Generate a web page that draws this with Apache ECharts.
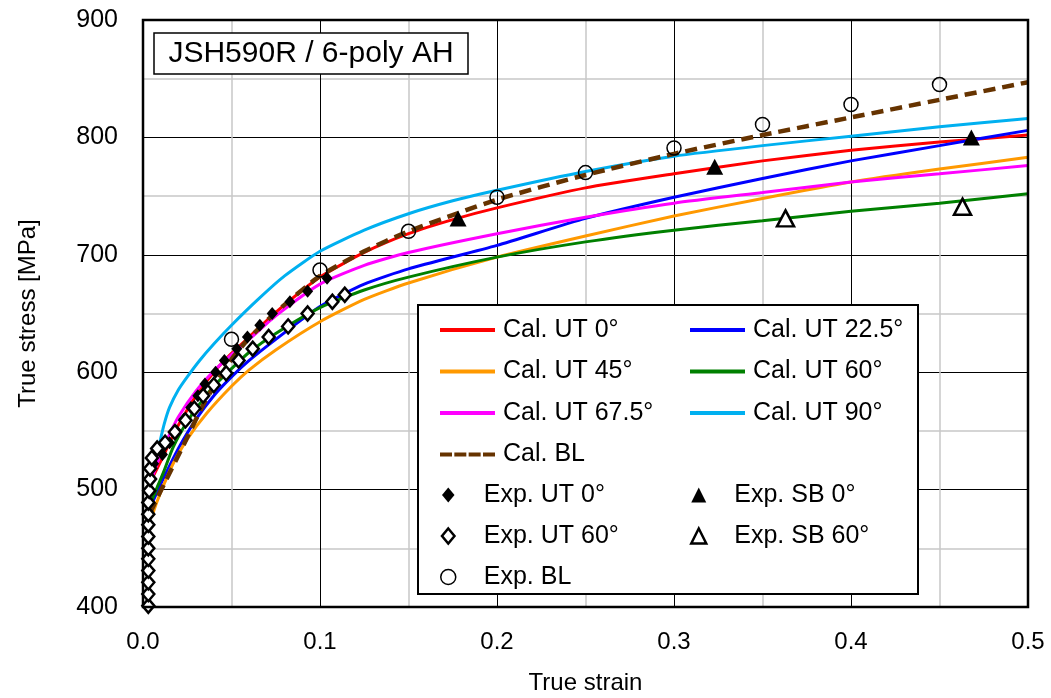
<!DOCTYPE html>
<html><head><meta charset="utf-8">
<script src="https://cdn.jsdelivr.net/npm/echarts@6/dist/echarts.min.js"></script>
<style>html,body{margin:0;padding:0;background:#fff}#c{width:1051px;height:698px}</style>
</head><body><div id="c"></div>
<script>
// ---- data: [true strain, true stress MPa] ----
const calUT0 = [[0.003,500],[0.006,512],[0.01,524],[0.015,540],[0.02,555],[0.03,580],[0.04,600],[0.05,616],[0.06,630],[0.075,651],[0.1,681],[0.125,702],[0.15,718],[0.175,730],[0.2,740],[0.25,757],[0.3,769],[0.35,780],[0.4,789],[0.45,796],[0.5,802]];
const calUT225 = [[0.005,488],[0.008,498],[0.012,511],[0.02,535],[0.03,560],[0.04,580],[0.05,596],[0.06,610],[0.075,628],[0.1,656],[0.125,675],[0.15,688],[0.2,708],[0.25,731],[0.3,749],[0.35,765],[0.4,780],[0.45,793],[0.5,806]];
const calUT45 = [[0.005,477],[0.008,490],[0.012,505],[0.017,522],[0.025,543],[0.036,565],[0.05,588],[0.06,602],[0.075,619],[0.1,643],[0.125,662],[0.15,676],[0.2,698],[0.25,716],[0.3,733],[0.35,748],[0.4,762],[0.45,773],[0.5,783]];
const calUT60 = [[0.004,487],[0.008,502],[0.0114,514],[0.017,536],[0.025,558],[0.033,575],[0.04,588],[0.05,603],[0.06,617],[0.075,633],[0.1,655],[0.125,670],[0.15,681],[0.2,698],[0.25,711],[0.3,721],[0.35,729],[0.4,737],[0.45,744],[0.5,752]];
const calUT675 = [[0.003,500],[0.006,514],[0.01,530],[0.015,547],[0.02,562],[0.03,584],[0.04,601],[0.05,615],[0.06,628],[0.075,648],[0.1,675],[0.125,691],[0.15,702],[0.2,718],[0.25,732],[0.3,744],[0.35,753],[0.4,762],[0.45,769],[0.5,776]];
const calUT90 = [[0.0096,541],[0.012,556],[0.015,570],[0.02,585],[0.025,596],[0.032,610],[0.04,624],[0.05,640],[0.065,662],[0.08,682],[0.1,703],[0.125,721],[0.15,735],[0.175,746],[0.2,755],[0.25,771],[0.3,784],[0.35,793],[0.4,801],[0.45,809],[0.5,816]];
const calBL = [[0.004,480],[0.0068,489],[0.012,505],[0.0226,537],[0.035,575],[0.05,611],[0.06,629],[0.075,651],[0.1,682],[0.125,703],[0.15,720],[0.2,747],[0.25,768],[0.3,786],[0.35,802],[0.4,817],[0.45,832],[0.5,847]];
const expUT0 = [[0.006,522],[0.011,530],[0.015,540],[0.019,550],[0.023,560],[0.027,570],[0.031,580],[0.035,590],[0.041,600],[0.046,610],[0.053,620],[0.059,630],[0.066,640],[0.073,650],[0.083,660],[0.093,669],[0.104,680]];
const expUT60 = [[0.003,401],[0.003,411],[0.003,421],[0.003,431],[0.003,441],[0.003,450],[0.003,460],[0.003,470],[0.003,479],[0.003,489],[0.0035,499],[0.004,509],[0.004,518],[0.005,527],[0.008,535],[0.0125,540],[0.018,549],[0.024,559],[0.029,569],[0.034,580],[0.040,589],[0.047,599],[0.054,610],[0.062,620],[0.071,630],[0.082,639],[0.093,650],[0.107,660],[0.114,666]];
const expBL = [[0.05,628],[0.1,687],[0.15,720],[0.2,749],[0.25,770],[0.3,791],[0.35,811],[0.4,828],[0.45,845]];
const expSB0 = [[0.178,731],[0.323,775],[0.468,800]];
const expSB60 = [[0.363,731],[0.463,741]];
const xTicks = [0, 0.1, 0.2, 0.3, 0.4, 0.5];
const yTicks = [400, 500, 600, 700, 800, 900];

const FONT = 'Liberation Sans, Arial, sans-serif';
const chart = echarts.init(document.getElementById('c'));

function lineSeries(name, data, color, dashed) {
  return {
    name, type: 'line', data, symbol: 'none', smooth: 0.2,
    lineStyle: { color, width: dashed ? 4.5 : 3, type: dashed ? [12, 7] : 'solid' },
    itemStyle: { color }, z: 2, silent: true
  };
}
function scatterSeries(name, data, symbol, size, fill, border, bw) {
  return {
    name, type: 'scatter', data, symbol, symbolSize: size, z: 5, silent: true,
    itemStyle: { color: fill, borderColor: border, borderWidth: bw, opacity: 1 }
  };
}
const DIAMOND = 'path://M5,0L10,6L5,12L0,6Z';
const TRI = 'path://M6,0L12,12L0,12Z';
const DASH = 'path://M0,0h12v4h-12zM14.33,0h12v4h-12zM28.66,0h12v4h-12zM43,0h12v4h-12z';

const legendText = { fontSize: 25, color: '#000', fontFamily: FONT, lineHeight: 28, padding: [0, 0, 0, 3] };
function lineLegend(left, top, items) {
  return { left, top, orient: 'vertical', itemWidth: 55, itemHeight: 4, itemGap: 13.5,
    textStyle: legendText, selectedMode: false, data: items, z: 6 };
}
function symLegend(left, top, items) {
  return { left, top, orient: 'vertical', itemWidth: 55, itemHeight: 15, itemGap: 13,
    textStyle: legendText, selectedMode: false, data: items, z: 6 };
}

chart.setOption({
  animation: false,
  backgroundColor: '#fff',
  grid: { left: 143, right: 23, top: 20, bottom: 91, containLabel: false, outerBoundsMode: 'none' },
  xAxis: {
    type: 'value', min: xTicks[0], max: xTicks[xTicks.length - 1], interval: 0.1,
    name: 'True strain', nameLocation: 'middle', nameGap: 64,
    nameTextStyle: { fontSize: 24, color: '#000', fontFamily: FONT },
    axisLine: { show: true, lineStyle: { color: '#000', width: 2 } },
    axisTick: { show: false },
    axisLabel: { fontSize: 24, color: '#000', fontFamily: FONT, margin: 23, formatter: v => v.toFixed(1) },
    splitLine: { show: true, lineStyle: { color: '#000', width: 1 } },
    minorTick: { show: false, splitNumber: 2 },
    minorSplitLine: { show: true, lineStyle: { color: '#c8c8c8', width: 1.5 } }
  },
  yAxis: {
    type: 'value', min: yTicks[0], max: yTicks[yTicks.length - 1], interval: 100,
    name: 'True stress [MPa]', nameLocation: 'middle', nameGap: 103,
    nameTextStyle: { fontSize: 24, color: '#000', fontFamily: FONT },
    axisLine: { show: true, lineStyle: { color: '#000', width: 2 } },
    axisTick: { show: false },
    axisLabel: { fontSize: 25, color: '#000', fontFamily: FONT, margin: 25 },
    splitLine: { show: true, lineStyle: { color: '#000', width: 1 } },
    minorTick: { show: false, splitNumber: 2 },
    minorSplitLine: { show: true, lineStyle: { color: '#c8c8c8', width: 1.5 } }
  },
  legend: [
    lineLegend(435, 311, [
      { name: 'Cal. UT 0°', icon: 'rect' },
      { name: 'Cal. UT 45°', icon: 'rect' },
      { name: 'Cal. UT 67.5°', icon: 'rect' },
      { name: 'Cal. BL', icon: DASH }
    ]),
    symLegend(435, 476, [
      { name: 'Exp. UT 0°', icon: DIAMOND, itemStyle: { color: '#000', borderWidth: 0 } },
      { name: 'Exp. UT 60°', icon: DIAMOND, itemStyle: { color: '#fff', borderColor: '#000', borderWidth: 2.5 } },
      { name: 'Exp. BL', icon: 'circle', itemStyle: { color: '#fff', borderColor: '#000', borderWidth: 1.5 } }
    ]),
    lineLegend(685, 311, [
      { name: 'Cal. UT 22.5°', icon: 'rect' },
      { name: 'Cal. UT 60°', icon: 'rect' },
      { name: 'Cal. UT 90°', icon: 'rect' }
    ]),
    symLegend(685, 476, [
      { name: 'Exp. SB 0°', icon: TRI, itemStyle: { color: '#000', borderWidth: 0 } },
      { name: 'Exp. SB 60°', icon: TRI, itemStyle: { color: '#fff', borderColor: '#000', borderWidth: 2.5 } }
    ])
  ],
  graphic: [
    { type: 'rect', z: 3, shape: { x: 154, y: 33, width: 314, height: 41 },
      style: { fill: '#fff', stroke: '#000', lineWidth: 1.5 } },
    { type: 'text', z: 4, x: 311, y: 54,
      style: { text: 'JSH590R / 6-poly AH', fontSize: 30, fontFamily: FONT, fill: '#000', align: 'center', verticalAlign: 'middle' } },
    { type: 'rect', z: 3, shape: { x: 418, y: 305, width: 500, height: 289 },
      style: { fill: '#fff', stroke: '#000', lineWidth: 2 } },
    { type: 'rect', z: 10, shape: { x: 143, y: 20, width: 885, height: 587 },
      style: { fill: 'none', stroke: '#000', lineWidth: 2.5 } }
  ],
  series: [
    lineSeries('Cal. UT 0°', calUT0, '#ff0000'),
    lineSeries('Cal. UT 22.5°', calUT225, '#0000ff'),
    lineSeries('Cal. UT 45°', calUT45, '#ff9900'),
    lineSeries('Cal. UT 60°', calUT60, '#008000'),
    lineSeries('Cal. UT 67.5°', calUT675, '#ff00ff'),
    lineSeries('Cal. UT 90°', calUT90, '#00b0f0'),
    lineSeries('Cal. BL', calBL, '#663300', true),
    scatterSeries('Exp. UT 0°', expUT0, 'diamond', [11, 13], '#000', '#000', 0),
    scatterSeries('Exp. UT 60°', expUT60, 'diamond', [12, 14], '#fff', '#000', 2.5),
    scatterSeries('Exp. BL', expBL, 'circle', 14, 'rgba(255,255,255,0)', '#000', 1.5),
    scatterSeries('Exp. SB 0°', expSB0, 'triangle', [17, 16], '#000', '#000', 0),
    scatterSeries('Exp. SB 60°', expSB60, 'triangle', [17, 16], '#fff', '#000', 2.5)
  ]
});
</script></body></html>
